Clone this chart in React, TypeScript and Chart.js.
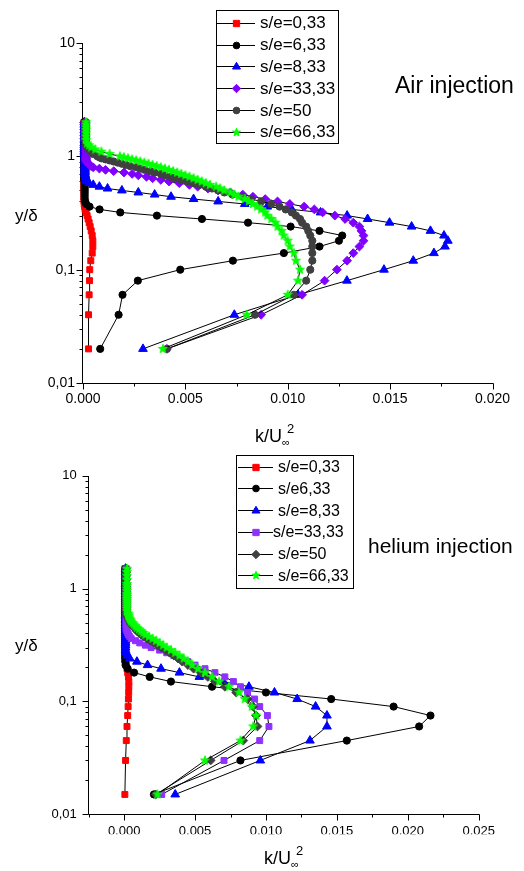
import React, { useEffect, useRef } from 'react';
import { Chart, registerables } from 'chart.js';

Chart.register(...registerables);

const FONT = '"Liberation Sans", Arial, Helvetica, sans-serif';

// ---------------- Air injection (top chart) ----------------
const airLabels = ['s/e=0,33', 's/e=6,33', 's/e=8,33', 's/e=33,33', 's/e=50', 's/e=66,33'];
const airY = [0.02, 0.04, 0.06, 0.08, 0.1, 0.12, 0.14, 0.16, 0.18, 0.2,
  0.22, 0.24, 0.26, 0.28, 0.3, 0.32, 0.34, 0.36, 0.38, 0.4,
  0.42, 0.44, 0.46, 0.48, 0.5, 0.52, 0.54, 0.56, 0.58, 0.6,
  0.62, 0.64, 0.66, 0.68, 0.7, 0.72, 0.74, 0.76, 0.78, 0.8,
  0.82, 0.84, 0.86, 0.88, 0.9, 0.92, 0.94, 0.96, 0.98, 1,
  1.05, 1.1, 1.15, 1.2, 1.25, 1.3, 1.4, 1.5, 1.6, 1.7, 1.8, 1.9, 2];
const airRed = [0.00027, 0.00027, 0.0003, 0.00032, 0.00033, 0.00038, 0.00045, 0.00048, 0.00048, 0.00045,
  0.0004, 0.00035, 0.0003, 0.00025, 0.0002, 0.00015, 0.0001, 0.00008, 0.00006, 0.00005,
  0.00005, 0.00005, 0.00005, 0.00005, 0.00005, 0.00005, 0.00005, 0.00005, 0.00005, 0.00005,
  0.00005, 0.00005, 0.00005, 0.00005, 0.00005, 0.00005, 0.00005, 0.00005, 0.00005, 0.00005,
  0.00005, 0.00005, 0.00005, 0.00005, 0.00005, 0.00005, 0.00005, 0.00005, 0.00005, 0.00005,
  0.00005, 0.00005, 0.00005, 0.00005, 0.00005, 0.00005, 0.00005, 0.00005, 0.00005, 0.00005, 0.00005, 0.00005, 0.00005];
const airBlack = [0.00084, 0.00174, 0.00193, 0.00268, 0.00475, 0.00732, 0.00981, 0.01155, 0.0125, 0.01266,
  0.01155, 0.01014, 0.00806, 0.00581, 0.00361, 0.00182, 0.00081, 0.00032, 0.00015, 0.0001,
  0.00008, 0.00008, 0.00008, 0.00008, 0.00008, 0.00008, 0.00008, 0.00008, 0.00008, 0.00008,
  0.00006, 0.00006, 0.00006, 0.00006, 0.00006, 0.00006, 0.00006, 0.00006, 0.00006, 0.00006,
  0.00006, 0.00006, 0.00006, 0.00006, 0.00006, 0.00006, 0.00006, 0.00006, 0.00006, 0.00006,
  0.00006, 0.00006, 0.00006, 0.00006, 0.00006, 0.00006, 0.00006, 0.00006, 0.00006, 0.00006, 0.00006, 0.00006, 0.00006];
const airBlue = [0.00293, 0.00739, 0.0105, 0.01289, 0.0147, 0.01613, 0.01714, 0.01768, 0.01782, 0.01763,
  0.01697, 0.01605, 0.01497, 0.0139, 0.0129, 0.0116, 0.0102, 0.009, 0.0079, 0.0066,
  0.0054, 0.0043, 0.0035, 0.0027, 0.0019, 0.0012, 0.0008, 0.0005, 0.0003, 0.0002,
  0.00015, 0.00015, 0.00012, 0.00012, 0.0001, 0.0001, 0.0001, 0.0001, 0.0001, 0.0001,
  0.0001, 0.0001, 0.0001, 0.0001, 0.0001, 0.0001, 0.0001, 0.0001, 0.0001, 0.0001,
  0.00006, 0.00006, 0.00006, 0.00006, 0.00006, 0.00006, 0.00006, 0.00006, 0.00006, 0.00006, 0.00006, 0.00006, 0.00006];
const airPurple = [0.0041, 0.0087, 0.0107, 0.0118, 0.0124, 0.0129, 0.0132, 0.0135, 0.0137, 0.0137,
  0.0136, 0.0135, 0.0132, 0.0128, 0.0123, 0.0117, 0.0113, 0.0108, 0.0101, 0.0095,
  0.0089, 0.0083, 0.0078, 0.0072, 0.0066, 0.0061, 0.0056, 0.0052, 0.0047, 0.0042,
  0.0038, 0.0034, 0.0031, 0.0027, 0.0024, 0.002, 0.0015, 0.0011, 0.0008, 0.0005,
  0.0004, 0.0003, 0.00025, 0.0002, 0.00018, 0.00016, 0.00015, 0.00015, 0.00015, 0.00015,
  0.00015, 0.00015, 0.00015, 0.00015, 0.00015, 0.00015, 0.0001, 0.0001, 0.0001, 0.0001, 0.0001, 0.0001, 0.0001];
const airGray = [0.0041, 0.0084, 0.0103, 0.0109, 0.0111, 0.0112, 0.0112, 0.0112, 0.0112, 0.0111,
  0.011, 0.0109, 0.0107, 0.0106, 0.0104, 0.0102, 0.0099, 0.0096, 0.0092, 0.0087,
  0.0082, 0.0078, 0.0073, 0.0069, 0.0066, 0.0063, 0.006, 0.0057, 0.0054, 0.0051,
  0.0048, 0.0045, 0.0043, 0.004, 0.0038, 0.0035, 0.0033, 0.003, 0.0028, 0.0026,
  0.0023, 0.0021, 0.0019, 0.0017, 0.0015, 0.0013, 0.0011, 0.0009, 0.0008, 0.0007,
  0.0005, 0.0004, 0.0003, 0.0002, 0.00015, 0.00015, 0.00015, 0.00015, 0.00015, 0.00015, 0.00015, 0.00015, 0.00015];
const airGreen = [0.0039, 0.008, 0.01, 0.0105, 0.0106, 0.0104, 0.0103, 0.0101, 0.01, 0.0098,
  0.0097, 0.0095, 0.0094, 0.0092, 0.009, 0.0089, 0.0087, 0.0085, 0.0083, 0.0081,
  0.0079, 0.0076, 0.0074, 0.0072, 0.0069, 0.0067, 0.0065, 0.0062, 0.006, 0.0058,
  0.0056, 0.0054, 0.0052, 0.005, 0.0048, 0.0046, 0.0044, 0.0042, 0.004, 0.0038,
  0.0036, 0.0034, 0.0032, 0.003, 0.0028, 0.0026, 0.0024, 0.0022, 0.002, 0.0018,
  0.0013, 0.0009, 0.0006, 0.0004, 0.0003, 0.0002, 0.00015, 0.00015, 0.00015, 0.00015, 0.00015, 0.00015, 0.00015];
const airXTicks = [0, 0.005, 0.01, 0.015, 0.02];

// ---------------- Helium injection (bottom chart) ----------------
const heLabels = ['s/e=0,33', 's/e6,33', 's/e=8,33', 's/e=33,33', 's/e=50', 's/e=66,33'];
const heY = [0.015, 0.03, 0.045, 0.06, 0.075, 0.09, 0.105, 0.12, 0.135, 0.15,
  0.165, 0.18, 0.195, 0.21, 0.225, 0.24, 0.255, 0.27, 0.285, 0.3,
  0.315, 0.33, 0.345, 0.36, 0.375, 0.39, 0.405, 0.42, 0.435, 0.45,
  0.465, 0.48, 0.495, 0.51, 0.525, 0.54, 0.555, 0.57, 0.585, 0.6,
  0.63, 0.66, 0.69, 0.72, 0.75, 0.78, 0.81, 0.84, 0.87, 0.9,
  0.95, 1, 1.05, 1.1, 1.2, 1.3, 1.4, 1.5];
const heRed = [0.00005, 0.0001, 0.00015, 0.0002, 0.00025, 0.00028, 0.0003, 0.00032, 0.00033, 0.00033,
  0.0003, 0.00025, 0.0002, 0.00015, 0.0001, 0.00005, 0.00005, 0.00005, 0.00005, 0.00005,
  0.00005, 0.00005, 0.00005, 0.00005, 0.00005, 0.00005, 0.00005, 0.00005, 0.00005, 0.00005,
  0.00005, 0.00005, 0.00005, 0.00005, 0.00005, 0.00005, 0.00005, 0.00005, 0.00005, 0.00005,
  0.00005, 0.00005, 0.00005, 0.00005, 0.00005, 0.00005, 0.00005, 0.00005, 0.00005, 0.00005,
  0.00005, 0.00005, 0.00005, 0.00005, 0.00005, 0.00005, 0.00005, 0.00005];
const heBlack = [0.0021, 0.0082, 0.0157, 0.0208, 0.0216, 0.019, 0.0146, 0.01, 0.0062, 0.0033,
  0.0018, 0.0007, 0.00025, 0.0001, 0.00008, 0.00008, 0.00008, 0.00008, 0.00008, 0.00008,
  0.00008, 0.00008, 0.00008, 0.00008, 0.00008, 0.00008, 0.00008, 0.00008, 0.00008, 0.00008,
  0.00008, 0.00008, 0.00008, 0.00008, 0.00008, 0.00008, 0.00008, 0.00008, 0.00008, 0.00008,
  0.00008, 0.00008, 0.00008, 0.00008, 0.00008, 0.00008, 0.00008, 0.00008, 0.00008, 0.00008,
  0.00008, 0.00008, 0.00008, 0.00008, 0.00008, 0.00008, 0.00008, 0.00008];
const heBlue = [0.0036, 0.0096, 0.0131, 0.0143, 0.0143, 0.0135, 0.0122, 0.0106, 0.0088, 0.007,
  0.0053, 0.0039, 0.0026, 0.00165, 0.0009, 0.0004, 0.0002, 0.00015, 0.0001, 0.0001,
  0.0001, 0.0001, 0.0001, 0.0001, 0.0001, 0.0001, 0.0001, 0.0001, 0.0001, 0.0001,
  0.0001, 0.0001, 0.0001, 0.0001, 0.0001, 0.0001, 0.0001, 0.0001, 0.0001, 0.0001,
  0.0001, 0.0001, 0.0001, 0.0001, 0.0001, 0.0001, 0.0001, 0.0001, 0.0001, 0.0001,
  0.0001, 0.0001, 0.0001, 0.0001, 0.0001, 0.0001, 0.0001, 0.0001];
const hePurple = [0.00265, 0.00704, 0.00956, 0.01021, 0.0101, 0.00956, 0.0092, 0.0087, 0.0082, 0.0077,
  0.0071, 0.0064, 0.0057, 0.005, 0.0045, 0.004, 0.0035, 0.003, 0.0025, 0.0019,
  0.0015, 0.0011, 0.0008, 0.0005, 0.0004, 0.0003, 0.00025, 0.0002, 0.00015, 0.00015,
  0.00015, 0.00015, 0.00015, 0.00015, 0.00015, 0.00015, 0.00015, 0.00015, 0.00015, 0.00015,
  0.00015, 0.00015, 0.00015, 0.00015, 0.00015, 0.00015, 0.00015, 0.00015, 0.00015, 0.00015,
  0.00015, 0.00015, 0.00015, 0.00015, 0.00015, 0.00015, 0.00015, 0.00015];
const heGray = [0.00223, 0.0061, 0.0084, 0.0094, 0.0093, 0.0091, 0.0087, 0.0079, 0.0071, 0.0064,
  0.0059, 0.0054, 0.0049, 0.0045, 0.0041, 0.0038, 0.0035, 0.0032, 0.0029, 0.0026,
  0.00235, 0.0021, 0.00185, 0.0016, 0.0014, 0.0012, 0.00105, 0.0009, 0.0008, 0.0007,
  0.0006, 0.0005, 0.00045, 0.0004, 0.00035, 0.0003, 0.00025, 0.0002, 0.0002, 0.00015,
  0.00015, 0.00015, 0.00015, 0.00015, 0.00015, 0.00015, 0.00015, 0.00015, 0.00015, 0.00015,
  0.00015, 0.00015, 0.00015, 0.00015, 0.00015, 0.00015, 0.00015, 0.00015];
const heGreen = [0.00235, 0.0057, 0.0082, 0.0091, 0.0093, 0.009, 0.0085, 0.0081, 0.0074, 0.0067,
  0.0062, 0.0057, 0.0052, 0.0048, 0.0045, 0.0042, 0.0039, 0.0036, 0.0033, 0.003,
  0.00275, 0.0025, 0.00225, 0.002, 0.00175, 0.0015, 0.00135, 0.0012, 0.00105, 0.0009,
  0.0008, 0.0007, 0.0006, 0.0005, 0.00045, 0.0004, 0.00035, 0.0003, 0.0003, 0.0003,
  0.0002, 0.0002, 0.0002, 0.0002, 0.0002, 0.0002, 0.0002, 0.0002, 0.0002, 0.0002,
  0.0002, 0.0002, 0.0002, 0.0002, 0.0002, 0.0002, 0.0002, 0.0002];
const heXTicks = [0, 0.005, 0.01, 0.015, 0.02, 0.025];

const yTicks = [0.01, 0.1, 1, 10];

// ---------------- styles ----------------
const airColors = ['#ff0000', '#000000', '#0000ff', '#8000ff', '#404040', '#00ff00'];
const heColors = ['#ff0000', '#000000', '#0000ff', '#9030ff', '#404040', '#00ff00'];
const airMarkers = ['rect', 'circle', 'triangle', 'rectRot', 'circle', 'star'];
const heMarkers = ['rect', 'circle', 'triangle', 'rect', 'rectRot', 'star'];
const markerRadius: any = { rect: 4.2, circle: 3.6, triangle: 5, rectRot: 4.4, star: 4.8 };

function starPath(ctx: any, x: number, y: number, R: number, r: number) {
  ctx.beginPath();
  for (let i = 0; i < 10; i++) {
    const ang = -Math.PI / 2 + (i * Math.PI) / 5;
    const rad = i % 2 === 0 ? R : r;
    const px = x + Math.cos(ang) * rad;
    const py = y + Math.sin(ang) * rad;
    if (i === 0) ctx.moveTo(px, py);
    else ctx.lineTo(px, py);
  }
  ctx.closePath();
}

function makeStar(color: string, R: number) {
  const c = document.createElement('canvas');
  const s = Math.ceil(2 * R + 2);
  c.width = s;
  c.height = s;
  const ctx = c.getContext('2d')!;
  ctx.fillStyle = color;
  ctx.strokeStyle = color;
  ctx.lineWidth = 0.8;
  starPath(ctx, s / 2, s / 2, R, R * 0.42);
  ctx.fill();
  ctx.stroke();
  return c;
}

function drawMarker(ctx: any, style: string, x: number, y: number, s: number, color: string) {
  ctx.save();
  ctx.fillStyle = color;
  ctx.strokeStyle = color;
  ctx.lineWidth = 1;
  ctx.beginPath();
  if (style === 'rect') {
    ctx.rect(x - s * 0.75, y - s * 0.75, s * 1.5, s * 1.5);
  } else if (style === 'circle') {
    ctx.arc(x, y, s * 0.8, 0, Math.PI * 2);
  } else if (style === 'triangle') {
    ctx.moveTo(x, y - s);
    ctx.lineTo(x + s * 0.95, y + s * 0.6);
    ctx.lineTo(x - s * 0.95, y + s * 0.6);
    ctx.closePath();
  } else if (style === 'rectRot') {
    ctx.moveTo(x, y - s);
    ctx.lineTo(x + s, y);
    ctx.lineTo(x, y + s);
    ctx.lineTo(x - s, y);
    ctx.closePath();
  } else if (style === 'star') {
    starPath(ctx, x, y, s, s * 0.42);
  }
  ctx.fill();
  ctx.stroke();
  ctx.restore();
}

function makeDecor(spec: any) {
  return {
    id: 'decor',
    beforeDatasetsDraw(chart: any) {
      const { ctx, chartArea: a, scales } = chart;
      const xs = scales.x;
      const ys = scales.y;
      ctx.save();
      ctx.strokeStyle = '#000';
      ctx.lineWidth = 1;
      const L = Math.round(a.left) - 0.5;
      const B = Math.round(a.bottom) + 0.5;
      ctx.beginPath();
      ctx.moveTo(L, Math.round(a.top));
      ctx.lineTo(L, B);
      ctx.lineTo(Math.round(a.right) + 0.5, B);
      ctx.stroke();
      for (const d of [0.01, 0.1, 1, 10]) {
        for (let m = 1; m <= 9; m++) {
          const v = d * m;
          if (v > 10.0001) break;
          const p = Math.round(ys.getPixelForValue(v)) + 0.5;
          const len = m === 1 ? spec.majorLen : spec.minorLen;
          ctx.beginPath();
          ctx.moveTo(L - len, p);
          ctx.lineTo(L, p);
          ctx.stroke();
        }
      }
      const n = Math.round((spec.xMax - spec.xMin) / spec.xMinorStep);
      for (let i = 0; i <= n; i++) {
        const v = spec.xMin + i * spec.xMinorStep;
        const major = Math.abs(v / 0.005 - Math.round(v / 0.005)) < 1e-6;
        const p = Math.round(xs.getPixelForValue(v)) + 0.5;
        ctx.beginPath();
        ctx.moveTo(p, B);
        ctx.lineTo(p, B + (major ? spec.majorLen : spec.minorLen));
        ctx.stroke();
      }
      ctx.restore();
    },
    afterDraw(chart: any) {
      const { ctx } = chart;
      const lg = spec.legend;
      ctx.save();
      ctx.fillStyle = '#fff';
      ctx.fillRect(lg.x, lg.y, lg.w, lg.h);
      ctx.strokeStyle = '#000';
      ctx.lineWidth = 1;
      ctx.strokeRect(lg.x + 0.5, lg.y + 0.5, lg.w, lg.h);
      chart.data.datasets.forEach((ds: any, i: number) => {
        const yy = lg.rowY0 + i * lg.rowStep;
        const ly = Math.round(yy) + 0.5;
        ctx.strokeStyle = '#000';
        ctx.beginPath();
        ctx.moveTo(lg.lineX0, ly);
        ctx.lineTo(lg.lineX1, ly);
        ctx.stroke();
        drawMarker(ctx, spec.markers[i], lg.markX, ly, lg.markSize, spec.colors[i]);
        ctx.fillStyle = '#000';
        ctx.font = `${lg.font}px ${FONT}`;
        ctx.textAlign = 'left';
        ctx.textBaseline = 'middle';
        ctx.fillText(ds.label, lg.textX[i], yy + 1);
      });
      ctx.fillStyle = '#000';
      ctx.textBaseline = 'alphabetic';
      ctx.textAlign = 'left';
      ctx.font = `${spec.note.font}px ${FONT}`;
      ctx.fillText(spec.note.text, spec.note.x, spec.note.y);
      ctx.font = `${spec.yTitle.font}px ${FONT}`;
      ctx.fillText('y/δ', spec.yTitle.x, spec.yTitle.y);
      const xt = spec.xTitle;
      ctx.font = `${xt.font}px ${FONT}`;
      ctx.fillText('k/U', xt.x, xt.y);
      const w = ctx.measureText('k/U').width;
      ctx.font = `${Math.round(xt.font * 0.62)}px ${FONT}`;
      ctx.fillText('∞', xt.x + w, xt.y + 4);
      ctx.font = `${Math.round(xt.font * 0.7)}px ${FONT}`;
      ctx.fillText('2', xt.x + w + 5, xt.y - 9);
      ctx.restore();
    },
  };
}

function buildConfig(spec: any) {
  const star = makeStar('#00ff00', markerRadius.star);
  const datasets = spec.series.map((s: number[], i: number) => {
    const style = spec.markers[i];
    return {
      label: spec.labels[i],
      data: spec.y.map((yv: number, j: number) => ({ x: s[j], y: yv })),
      showLine: true,
      borderColor: '#000',
      borderWidth: 1,
      backgroundColor: spec.colors[i],
      pointStyle: style === 'star' ? star : style,
      pointRadius: markerRadius[style],
      pointBackgroundColor: spec.colors[i],
      pointBorderColor: spec.colors[i],
      pointBorderWidth: 1,
      tension: 0,
      clip: false,
      order: 5 - i,
    };
  });
  const tickFont = { family: FONT, size: spec.tickFont };
  return {
    type: 'scatter',
    data: { datasets },
    options: {
      animation: false,
      responsive: false,
      maintainAspectRatio: false,
      events: [],
      layout: { padding: spec.padding },
      plugins: { legend: { display: false }, tooltip: { enabled: false } },
      scales: {
        x: {
          type: 'linear',
          min: spec.xMin,
          max: spec.xMax,
          afterFit: (s: any) => { s.height = 20; },
          afterBuildTicks: (s: any) => { s.ticks = spec.xTicks.map((v: number) => ({ value: v })); },
          ticks: {
            autoSkip: false,
            maxRotation: 0,
            color: '#000',
            font: tickFont,
            padding: spec.xLabelPad,
            callback: (v: any) => Number(v).toFixed(3).replace('.', ','),
          },
          grid: { display: false, drawTicks: false },
          border: { display: false },
        },
        y: {
          type: 'logarithmic',
          min: 0.01,
          max: 10,
          afterFit: (s: any) => { s.width = spec.yWidth; },
          afterBuildTicks: (s: any) => { s.ticks = yTicks.map((v) => ({ value: v })); },
          ticks: {
            autoSkip: false,
            color: '#000',
            font: tickFont,
            padding: spec.yLabelPad,
            callback: (v: any) => String(Number(v)).replace('.', ','),
          },
          grid: { display: false, drawTicks: false },
          border: { display: false },
        },
      },
    },
    plugins: [makeDecor(spec)],
  };
}

const airSpec = {
  labels: airLabels,
  y: airY,
  series: [airRed, airBlack, airBlue, airPurple, airGray, airGreen],
  colors: airColors,
  markers: airMarkers,
  xMin: 0,
  xMax: 0.02,
  xTicks: airXTicks,
  xMinorStep: 0.0025,
  yWidth: 83,
  padding: { left: 0, right: 31.5, top: 43, bottom: 49 },
  tickFont: 14,
  xLabelPad: 8,
  yLabelPad: 8,
  majorLen: 6,
  minorLen: 3,
  legend: {
    x: 216, y: 10, w: 122, h: 133, rowY0: 22.7, rowStep: 21.8,
    lineX0: 217, lineX1: 255, markX: 236.5, markSize: 4.2, font: 17,
    textX: [260, 260, 260, 260, 260, 260],
  },
  note: { text: 'Air injection', x: 395, y: 92.5, font: 23 },
  xTitle: { x: 255, y: 442, font: 18 },
  yTitle: { x: 15, y: 221, font: 17 },
};

const heSpec = {
  labels: heLabels,
  y: heY,
  series: [heRed, heBlack, heBlue, hePurple, heGray, heGreen],
  colors: heColors,
  markers: heMarkers,
  xMin: -0.0025,
  xMax: 0.025,
  xTicks: heXTicks,
  xMinorStep: 0.0025,
  yWidth: 88.7,
  padding: { left: 0, right: 45.3, top: 35.7, bottom: 36.7 },
  tickFont: 13,
  xLabelPad: 9,
  yLabelPad: 12,
  majorLen: 6,
  minorLen: 3,
  legend: {
    x: 236, y: 15, w: 117, h: 133, rowY0: 26.7, rowStep: 21.7,
    lineX0: 238, lineX1: 273, markX: 256, markSize: 4.2, font: 16,
    textX: [278, 278, 278, 273, 278, 278],
  },
  note: { text: 'helium injection', x: 368, y: 113, font: 21 },
  xTitle: { x: 264, y: 424, font: 18 },
  yTitle: { x: 15, y: 211, font: 17 },
};

export default function App() {
  const ref1 = useRef<HTMLCanvasElement>(null);
  const ref2 = useRef<HTMLCanvasElement>(null);
  useEffect(() => {
    const c1 = new Chart(ref1.current as any, buildConfig(airSpec) as any);
    const c2 = new Chart(ref2.current as any, buildConfig(heSpec) as any);
    return () => {
      c1.destroy();
      c2.destroy();
    };
  }, []);
  return (
    <div style={{ position: 'absolute', left: 0, top: 0, width: 524, height: 871, background: '#fff' }}>
      <canvas ref={ref1} width={524} height={452} style={{ position: 'absolute', left: 0, top: 0, width: 524, height: 452 }} />
      <canvas ref={ref2} width={524} height={431} style={{ position: 'absolute', left: 0, top: 440, width: 524, height: 431 }} />
    </div>
  );
}
